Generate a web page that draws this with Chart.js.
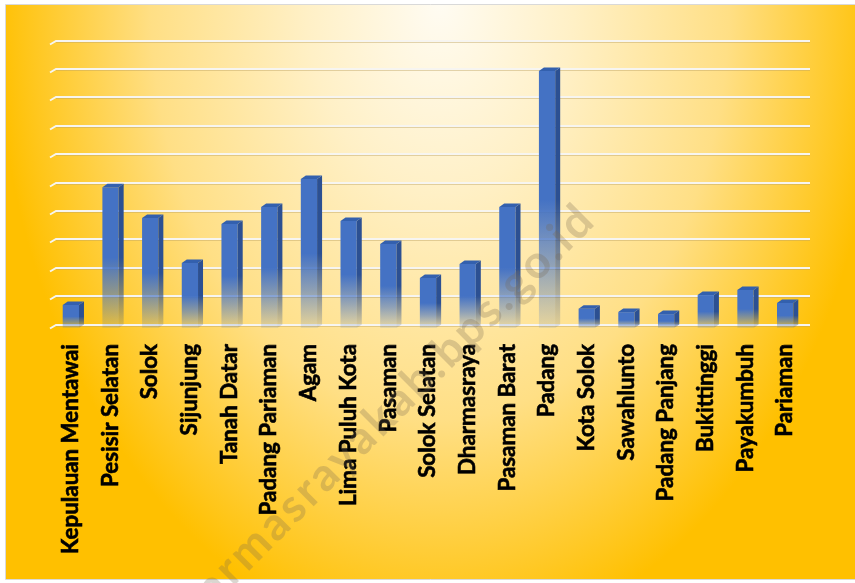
<!DOCTYPE html>
<html><head><meta charset="utf-8">
<script src="https://cdn.jsdelivr.net/npm/chart.js@4.4.1/dist/chart.umd.min.js"></script>
<style>html,body{margin:0;padding:0;background:#fff;overflow:hidden}canvas{display:block}</style>
</head><body><canvas id="c" width="855" height="583"></canvas>
<script>
const categories = ["Kepulauan Mentawai","Pesisir Selatan","Solok","Sijunjung","Tanah Datar","Padang Pariaman","Agam","Lima Puluh Kota","Pasaman","Solok Selatan","Dharmasraya","Pasaman Barat","Padang","Kota Solok","Sawahlunto","Padang Panjang","Bukittinggi","Payakumbuh","Pariaman"];
const values = [0.81, 4.96, 3.87, 2.29, 3.66, 4.26, 5.25, 3.77, 2.96, 1.76, 2.25, 4.26, 9.05, 0.68, 0.56, 0.49, 1.16, 1.34, 0.88];
const gridTicks = [0,1,2,3,4,5,6,7,8,9,10];
const watermarkText = "dharmasrayakab.bps.go.id";

const DX = 5, DY = 3.5;

function barGradient(c, top, base, r, g, b) {
  const gr = c.createLinearGradient(0, top, 0, base);
  gr.addColorStop(0, `rgba(${r},${g},${b},1)`);
  gr.addColorStop(0.5, `rgba(${r},${g},${b},1)`);
  gr.addColorStop(0.75, `rgba(${r},${g},${b},0.6)`);
  gr.addColorStop(1, `rgba(${r},${g},${b},0.12)`);
  return gr;
}

const bgPlugin = {
  id: 'bg',
  beforeDraw(chart) {
    const c = chart.ctx;
    c.save();
    c.fillStyle = '#fff';
    c.fillRect(0, 0, 855, 583);
    c.save();
    c.beginPath(); c.rect(6, 5, 849, 574); c.clip();
    c.translate(440, 0); c.scale(1, 1.45);
    const g = c.createRadialGradient(0, 0, 0, 0, 0, 445);
    g.addColorStop(0, '#FFFCF3');
    g.addColorStop(0.3, '#FFF0C6');
    g.addColorStop(0.65, '#FFDF85');
    g.addColorStop(1, '#FFC000');
    c.fillStyle = g;
    c.fillRect(-500, -10, 1000, 500);
    c.restore();
    c.strokeStyle = '#D9D9D9'; c.lineWidth = 1;
    c.beginPath();
    c.moveTo(855, 4.5); c.lineTo(5.5, 4.5); c.lineTo(5.5, 579.5); c.lineTo(855, 579.5);
    c.stroke();
    c.restore();
  },
  beforeDatasetsDraw(chart) {
    const c = chart.ctx, y = chart.scales.y, area = chart.chartArea;
    c.save();
    gridTicks.forEach(v => {
      const py = Math.round(y.getPixelForValue(v) - DY);
      c.strokeStyle = 'rgba(190,165,100,0.45)'; c.lineWidth = 1;
      c.beginPath(); c.moveTo(area.left + DX, py + 1.5); c.lineTo(area.right + DX, py + 1.5); c.stroke();
      c.strokeStyle = '#F7F5F0'; c.lineWidth = 2;
      c.beginPath(); c.moveTo(area.left - 1, py + DY); c.lineTo(area.left + DX, py); c.lineTo(area.right + DX, py); c.stroke();
    });
    c.restore();
  },
  afterDatasetsDraw(chart) {
    const c = chart.ctx, meta = chart.getDatasetMeta(0);
    c.save();
    meta.data.forEach(el => {
      const {x, y, width, base} = el.getProps(['x','y','width','base'], true);
      const l = x - width / 2, r = x + width / 2;
      c.fillStyle = barGradient(c, y, base, 44, 80, 146);
      c.beginPath(); c.moveTo(r, y); c.lineTo(r + DX, y - DY); c.lineTo(r + DX, base - DY); c.lineTo(r, base); c.closePath(); c.fill();
      c.fillStyle = '#3360AE';
      c.beginPath(); c.moveTo(l, y); c.lineTo(l + DX, y - DY); c.lineTo(r + DX, y - DY); c.lineTo(r, y); c.closePath(); c.fill();
    });
    c.restore();
  },
  afterDraw(chart) {
    const c = chart.ctx;
    c.save();
    c.translate(598, 222);
    c.rotate(-Math.PI / 4);
    c.font = 'bold 46px Lato';
    try { c.letterSpacing = '3px'; } catch (e) {}
    c.fillStyle = 'rgba(120,105,80,0.27)';
    c.textAlign = 'right'; c.textBaseline = 'alphabetic';
    c.fillText(watermarkText, 0, 0);
    c.restore();
  }
};

function build() {
  const m = document.createElement('canvas').getContext('2d');
  m.font = 'bold 20px Lato';
  const w = m.measureText(categories[0]).width;
  const labelSize = Math.max(16, Math.min(24, 20 * 210 / w));
  new Chart(document.getElementById('c'), {
    type: 'bar',
    data: {
      labels: categories,
      datasets: [{
        data: values,
        borderWidth: 0,
        barPercentage: 0.41,
        categoryPercentage: 1,
        backgroundColor: (ctx) => {
          const ch = ctx.chart;
          if (!ch.chartArea || ctx.type !== 'data') return '#4472C4';
          const top = ch.scales.y.getPixelForValue(ctx.raw);
          const base = ch.scales.y.getPixelForValue(0);
          return barGradient(ch.ctx, top, base, 68, 114, 196);
        }
      }]
    },
    options: {
      responsive: false,
      animation: false,
      events: [],
      layout: { padding: { left: 51, right: 50, top: 44, bottom: 0 } },
      plugins: { legend: { display: false }, tooltip: { enabled: false } },
      scales: {
        x: {
          grid: { display: false, drawTicks: false },
          border: { display: false },
          ticks: { color: '#000', textStrokeColor: '#000', textStrokeWidth: 0.6, font: { family: 'Lato', weight: 'bold', size: labelSize }, minRotation: 90, maxRotation: 90, padding: 16, autoSkip: false },
          afterFit: (s) => { s.height = 255; }
        },
        y: { display: false, min: 0, max: 10 }
      }
    },
    plugins: [bgPlugin]
  });
}

if (document.fonts && document.fonts.load) {
  document.fonts.load('bold 20px Lato').then(build, build);
} else {
  build();
}
</script>
</body></html>
